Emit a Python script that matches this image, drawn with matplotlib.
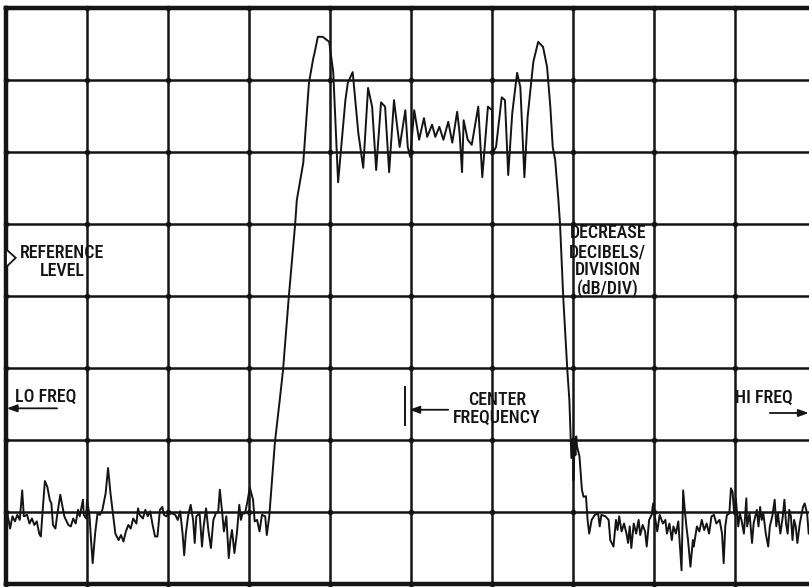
import matplotlib.pyplot as plt
import numpy as np

# --- trace: frequency in divisions (0-10), level in divisions (0-8) ---
lo_noise_freq = [0.02, 0.05, 0.08, 0.11, 0.14, 0.17, 0.20, 0.22, 0.26, 0.29, 0.32, 0.35,
                 0.38, 0.41, 0.43, 0.45, 0.48, 0.51, 0.54, 0.56, 0.58, 0.61, 0.63, 0.67,
                 0.69, 0.72, 0.74, 0.77, 0.80, 0.83, 0.86, 0.89, 0.91, 0.95, 0.96, 0.99,
                 1.00, 1.03, 1.05, 1.07, 1.10, 1.13, 1.16, 1.19, 1.23, 1.26, 1.29, 1.32,
                 1.35, 1.39, 1.42, 1.45, 1.48, 1.51, 1.54, 1.57, 1.61, 1.63, 1.65, 1.69,
                 1.72, 1.75, 1.78, 1.81, 1.84, 1.87, 1.90, 1.93, 1.95, 1.98, 2.02, 2.05,
                 2.09, 2.12, 2.15, 2.18, 2.20, 2.22, 2.25, 2.28, 2.31, 2.33, 2.35, 2.39,
                 2.42, 2.44, 2.47, 2.50, 2.53, 2.56, 2.59, 2.62, 2.64, 2.67, 2.69, 2.72,
                 2.75, 2.77, 2.79, 2.82, 2.85, 2.88, 2.90, 2.92, 2.95, 2.98, 3.01, 3.05,
                 3.07, 3.10, 3.13, 3.16, 3.20, 3.22, 3.25]
lo_noise_level = [0.96, 0.77, 0.94, 0.87, 0.96, 0.89, 1.30, 0.94, 0.96, 0.84, 0.91, 0.82,
                  0.87, 0.70, 0.66, 0.98, 1.43, 1.35, 1.17, 1.12, 0.82, 0.77, 0.94, 1.24,
                  1.12, 0.94, 0.89, 0.82, 0.80, 0.91, 0.84, 1.03, 0.94, 1.17, 0.96, 0.91,
                  1.17, 0.96, 0.61, 0.29, 0.70, 0.98, 0.96, 1.03, 1.26, 1.61, 1.26, 0.98,
                  0.70, 0.61, 0.68, 0.59, 0.73, 0.82, 0.77, 0.91, 0.84, 1.05, 0.96, 0.91,
                  1.03, 0.94, 1.01, 0.82, 0.66, 0.66, 1.03, 1.07, 0.96, 0.94, 0.98, 0.98,
                  0.96, 0.89, 1.01, 0.70, 0.40, 0.70, 0.96, 1.10, 0.89, 0.57, 0.94, 0.98,
                  0.52, 0.80, 1.05, 0.73, 0.50, 0.89, 0.98, 1.01, 1.31, 0.98, 0.73, 0.94,
                  0.36, 0.61, 0.75, 0.43, 0.70, 1.10, 0.89, 0.98, 0.98, 1.14, 1.34, 1.17,
                  0.87, 0.89, 0.73, 0.96, 0.94, 0.68, 0.94]

band_freq = [3.32, 3.38, 3.42, 3.49, 3.57, 3.59, 3.67, 3.74, 3.79, 3.81, 3.85, 3.91,
             3.99, 4.04, 4.10, 4.19, 4.22, 4.28, 4.35, 4.41, 4.47, 4.52, 4.57, 4.63,
             4.68, 4.73, 4.79, 4.83, 4.86, 4.93, 4.96, 4.99, 5.04, 5.10, 5.16, 5.20,
             5.26, 5.30, 5.35, 5.40, 5.46, 5.51, 5.57, 5.60, 5.63, 5.65, 5.70, 5.75,
             5.83, 5.88, 5.95, 6.00, 6.01, 6.05, 6.12, 6.16, 6.20, 6.25, 6.31, 6.35,
             6.40, 6.44, 6.51, 6.57, 6.63, 6.68, 6.72, 6.75, 6.78, 6.82, 6.84, 6.88,
             6.93, 6.955]
band_level = [1.97, 2.56, 2.97, 3.97, 5.00, 5.33, 5.85, 6.96, 7.28, 7.38, 7.60, 7.60,
              7.53, 7.11, 5.58, 6.72, 6.96, 7.11, 6.26, 5.78, 6.89, 6.63, 5.75, 6.69,
              6.63, 5.72, 6.72, 6.35, 6.07, 6.58, 6.07, 5.93, 6.58, 6.17, 6.47, 6.21,
              6.38, 6.21, 6.35, 6.17, 6.42, 6.13, 6.56, 6.26, 5.72, 6.44, 6.17, 6.10,
              6.63, 5.65, 6.63, 6.58, 5.99, 6.07, 6.76, 6.72, 5.68, 6.54, 7.10, 6.90,
              5.65, 6.49, 7.25, 7.53, 7.46, 7.18, 6.63, 6.07, 5.89, 5.33, 5.00, 3.97,
              2.97, 2.56]

hi_noise_freq = [6.97, 6.98, 7.00, 7.005, 7.02, 7.03, 7.04, 7.05, 7.08, 7.11, 7.13, 7.16,
                 7.18, 7.20, 7.23, 7.27, 7.31, 7.33, 7.35, 7.40, 7.44, 7.46, 7.50, 7.53,
                 7.55, 7.57, 7.60, 7.63, 7.66, 7.68, 7.70, 7.72, 7.75, 7.78, 7.81, 7.83,
                 7.86, 7.89, 7.91, 7.94, 7.97, 7.99, 8.01, 8.04, 8.07, 8.11, 8.14, 8.16,
                 8.19, 8.22, 8.24, 8.27, 8.30, 8.32, 8.34, 8.36, 8.38, 8.40, 8.42, 8.45,
                 8.48, 8.49, 8.53, 8.56, 8.59, 8.62, 8.65, 8.68, 8.71, 8.74, 8.77, 8.81,
                 8.84, 8.86, 8.88, 8.90, 8.93, 8.95, 8.97, 8.99, 9.01, 9.04, 9.06, 9.08,
                 9.11, 9.14, 9.15, 9.18, 9.21, 9.23, 9.25, 9.27, 9.29, 9.31, 9.33, 9.35,
                 9.38, 9.41, 9.43, 9.46, 9.49, 9.51, 9.53, 9.56, 9.59, 9.61, 9.63, 9.65,
                 9.67, 9.69, 9.71, 9.73, 9.75, 9.77, 9.80, 9.84, 9.86, 9.89, 9.91]
hi_noise_level = [2.05, 1.75, 2.02, 1.44, 1.95, 1.79, 2.05, 1.91, 1.77, 1.31, 1.21, 1.22,
                  0.89, 0.70, 0.89, 0.96, 0.98, 0.80, 0.96, 0.94, 0.89, 0.61, 0.52, 0.89,
                  0.75, 0.94, 0.73, 0.84, 0.70, 0.57, 0.80, 0.50, 0.84, 0.70, 0.89, 0.68,
                  0.82, 0.73, 0.52, 0.89, 0.96, 1.12, 0.94, 0.73, 0.96, 0.84, 0.89, 0.70,
                  0.84, 0.61, 0.80, 0.70, 0.87, 0.52, 0.19, 1.30, 1.03, 0.80, 0.61, 0.24,
                  0.61, 0.52, 0.80, 0.73, 0.89, 0.75, 0.84, 0.70, 0.94, 0.96, 0.84, 0.89,
                  0.70, 0.29, 0.80, 0.96, 0.98, 1.33, 1.28, 0.98, 1.19, 0.80, 0.98, 0.89,
                  0.70, 1.19, 0.80, 0.98, 0.57, 0.84, 0.94, 1.03, 0.80, 1.07, 0.89, 0.98,
                  0.70, 0.52, 0.80, 0.94, 1.17, 0.80, 0.98, 0.70, 0.94, 1.17, 0.84, 0.70,
                  1.03, 0.94, 0.61, 0.89, 0.80, 0.57, 0.84, 1.07, 1.12, 0.98, 0.70]

x_divisions = list(range(11))
y_divisions = list(range(9))

INK = '#141414'
plt.rcParams['font.family'] = ['Roboto Condensed', 'Archivo Narrow', 'DejaVu Sans']

fig = plt.figure(figsize=(8.09, 5.87), dpi=100)
ax = fig.add_axes([6 / 809, 3 / 587, 810 / 809, 576 / 587])
ax.set_xlim(0, 10)
ax.set_ylim(0, 8)
ax.set_xticks(x_divisions)
ax.set_yticks(y_divisions)
ax.tick_params(length=0, labelbottom=False, labelleft=False)
ax.grid(True, color=INK, lw=1.8)
ax.set_axisbelow(True)
for sp in ax.spines.values():
    sp.set_linewidth(3.2)
    sp.set_color(INK)

# small dots where the graticule lines cross
gx, gy = np.meshgrid(x_divisions, y_divisions)
ax.scatter(gx.ravel(), gy.ravel(), s=9, color=INK, zorder=2, clip_on=False)

freq = lo_noise_freq + band_freq + hi_noise_freq
level = lo_noise_level + band_level + hi_noise_level
ax.plot(freq, level, color=INK, lw=1.4, zorder=4)

# --- labels ---
txt = dict(fontsize=13, fontweight='medium', color=INK, zorder=5)
ax.text(0.69, 4.53, 'REFERENCE', ha='center', va='baseline', **txt)
ax.text(0.69, 4.28, 'LEVEL', ha='center', va='baseline', **txt)
ax.text(0.11, 2.53, 'LO FREQ', ha='left', va='baseline', **txt)
ax.text(6.06, 2.49, 'CENTER', ha='center', va='baseline', **txt)
ax.text(6.06, 2.24, 'FREQUENCY', ha='center', va='baseline', **txt)
for y, s in zip([4.81, 4.54, 4.29, 4.03], ['DECREASE', 'DECIBELS/', 'DIVISION', '(dB/DIV)']):
    ax.text(7.43, y, s, ha='center', va='baseline', **txt)
ax.text(9.0, 2.51, 'HI FREQ', ha='left', va='baseline', **txt)

arrow = dict(arrowstyle='-|>,head_length=0.6,head_width=0.22', color=INK, lw=1.3,
             shrinkA=0, shrinkB=0)
ax.annotate('', xy=(0.01, 2.44), xytext=(0.63, 2.44), arrowprops=arrow, zorder=5)
ax.annotate('', xy=(9.91, 2.375), xytext=(9.43, 2.375), arrowprops=arrow,
            annotation_clip=False, zorder=5)
ax.annotate('', xy=(4.98, 2.42), xytext=(5.46, 2.42), arrowprops=arrow, zorder=5)
ax.plot([4.93, 4.93], [2.21, 2.74], color=INK, lw=1.4, zorder=5)

# reference level marker on the left edge
ax.fill([0.0, 0.12, 0.0], [4.65, 4.53, 4.40], facecolor='white', edgecolor=INK,
        lw=1.3, zorder=6, clip_on=False)

fig.savefig('out.png', dpi=100, facecolor='white')
